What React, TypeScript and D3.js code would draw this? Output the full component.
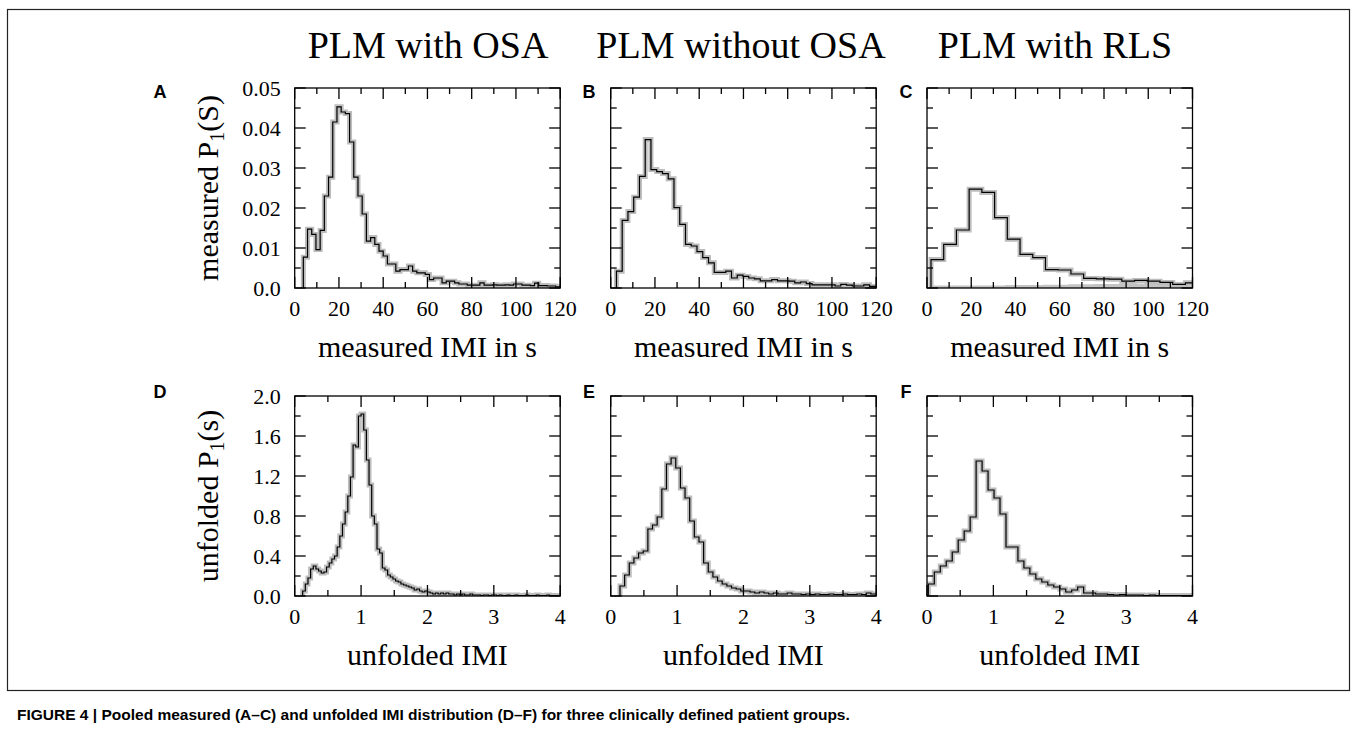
import React from 'react';
import * as d3 from 'd3';

// ---------- text ----------
const columnTitles = ['PLM with OSA', 'PLM without OSA', 'PLM with RLS'];
const topLetters = ['A', 'B', 'C'];
const bottomLetters = ['D', 'E', 'F'];
const captionText =
  'FIGURE 4 | Pooled measured (A\u2013C) and unfolded IMI distribution (D\u2013F) for three clinically defined patient groups.';

// ---------- axes ----------
const measuredXTicks = [0, 20, 40, 60, 80, 100, 120];
const measuredYTicks = [0, 0.01, 0.02, 0.03, 0.04, 0.05];
const measuredYTickLabels = ['0.0', '0.01', '0.02', '0.03', '0.04', '0.05'];
const unfoldedXTicks = [0, 1, 2, 3, 4];
const unfoldedYTicks = [0, 0.4, 0.8, 1.2, 1.6, 2.0];
const unfoldedYTickLabels = ['0.0', '0.4', '0.8', '1.2', '1.6', '2.0'];

// ---------- data (histograms: first bin edge, bin width, bin heights) ----------
const binStartA = 3.9, binWidthA = 1.9;
const valuesA = [
  0.0077, 0.0147, 0.0134, 0.0096, 0.0144, 0.0230, 0.0277, 0.0415, 0.0453, 0.0440,
  0.0436, 0.0365, 0.0277, 0.0230, 0.0185, 0.0117, 0.0126, 0.0109, 0.0092, 0.0080,
  0.0060, 0.0060, 0.0042, 0.0046, 0.0046, 0.0055, 0.0042, 0.0038, 0.0038, 0.0034,
  0.0021, 0.0025, 0.0025, 0.0013, 0.0017, 0.0017, 0.0013, 0.0010, 0.0010, 0.0007,
  0.0007, 0.0007, 0.0013, 0.0007, 0.0007, 0.0008, 0.0007, 0.0007, 0.0008, 0.0007,
  0.0010, 0.0010, 0.0007, 0.0007, 0.0006, 0.0012, 0.0006, 0.0006, 0.0005, 0.0005,
  0.0003, 0.0003,
];

const binStartB = 2.6, binWidthB = 2.6;
const valuesB = [
  0.0042, 0.0169, 0.0191, 0.0227, 0.0279, 0.0371, 0.0296, 0.0291, 0.0286, 0.0273,
  0.0201, 0.0159, 0.0109, 0.0105, 0.0091, 0.0076, 0.0063, 0.0039, 0.0039, 0.0042,
  0.0025, 0.0032, 0.0029, 0.0025, 0.0023, 0.0018, 0.0018, 0.0021, 0.0018, 0.0018,
  0.0017, 0.0013, 0.0015, 0.0011, 0.0008, 0.0008, 0.0008, 0.0008, 0.0005, 0.0009,
  0.0007, 0.0005, 0.0005, 0.0008, 0.0004, 0.0004,
];

const binStartC = 1.8, binWidthC = 5.75;
const valuesC = [
  0.0071, 0.0109, 0.0145, 0.0247, 0.0239, 0.0176, 0.0122, 0.0084, 0.0076, 0.0046,
  0.0045, 0.0035, 0.0024, 0.0023, 0.0022, 0.0017, 0.0019, 0.0017, 0.0014, 0.0009,
  0.0013,
];
// faint grey trace along the baseline of panel C
const valuesCFaint = [
  0, 0, 0, 0, 0, 0, 0.0001, 0.0001, 0.0001, 0.0002,
  0.0002, 0.0003, 0.0003, 0.0004, 0.0004, 0.0005, 0.0005, 0.0006, 0.0006, 0.0005,
  0.0006,
];

const binStartD = 0.12, binWidthD = 0.04;
const valuesD = [
  0.05, 0.12, 0.18, 0.27, 0.30, 0.27, 0.25, 0.23, 0.24, 0.29,
  0.33, 0.37, 0.40, 0.49, 0.60, 0.72, 0.84, 1.00, 1.19, 1.51,
  1.49, 1.80, 1.82, 1.66, 1.36, 1.11, 0.80, 0.72, 0.47, 0.43,
  0.28, 0.26, 0.21, 0.19, 0.17, 0.15, 0.14, 0.12, 0.11, 0.10,
  0.09, 0.08, 0.06, 0.07, 0.05, 0.04, 0.05, 0.04, 0.03, 0.02,
  0.03, 0.02, 0.03, 0.02, 0.03, 0.02, 0.02, 0.01, 0.02, 0.01,
  0.02, 0.01, 0.01, 0.02, 0.01, 0.01, 0.01, 0.005, 0.01, 0.01,
  0.005, 0.01, 0.01, 0.005, 0.01, 0.005, 0.005, 0.01, 0.005, 0.005,
  0.01, 0.005, 0.005, 0.005, 0.01, 0.005, 0.005, 0.005, 0.01, 0.005,
  0.005, 0.005, 0.01, 0.005, 0.005, 0.005, 0.005,
];

const binStartE = 0.14, binWidthE = 0.07;
const valuesE = [
  0.10, 0.21, 0.33, 0.38, 0.43, 0.45, 0.67, 0.71, 0.79, 1.07,
  1.32, 1.38, 1.28, 1.08, 0.98, 0.75, 0.59, 0.54, 0.33, 0.24,
  0.19, 0.15, 0.12, 0.10, 0.08, 0.07, 0.05, 0.05, 0.04, 0.03,
  0.04, 0.03, 0.02, 0.03, 0.02, 0.02, 0.03, 0.02, 0.02, 0.015,
  0.02, 0.015, 0.02, 0.015, 0.015, 0.02, 0.015, 0.015, 0.02, 0.015,
  0.015, 0.02, 0.015, 0.03, 0.02, 0.02,
];

const binStartF = 0.02, binWidthF = 0.09;
const valuesF = [
  0.12, 0.24, 0.30, 0.35, 0.44, 0.56, 0.65, 0.79, 1.35, 1.25,
  1.06, 0.98, 0.82, 0.49, 0.49, 0.35, 0.28, 0.22, 0.17, 0.14,
  0.11, 0.09, 0.07, 0.04, 0.06, 0.09, 0.03, 0.03, 0.02, 0.02,
  0.015, 0.01, 0.015, 0.01, 0.01, 0.01, 0.005, 0.01, 0.005, 0.005,
  0.005, 0.005, 0.005, 0.005, 0.005,
];

// ---------- layout ----------
const W = 1357, H = 735;
const colLeft = [294.7, 610.7, 927];
const panelW = 265.5;
const rowTop = [88, 396];
const panelH = 200;
const titleCenters = [428, 741, 1055];
const letterX = [160, 589, 906];

const serif = '"Liberation Serif", "Times New Roman", serif';
const sans = '"Liberation Sans", Arial, sans-serif';

type PanelProps = {
  id: string;
  left: number;
  top: number;
  xDomain: [number, number];
  yDomain: [number, number];
  xTicks: number[];
  xMinorStep: number;
  yTicks: number[];
  yMinorStep: number;
  yTickLabels: string[] | null;
  start: number;
  width: number;
  values: number[];
  faint?: number[];
};

function stepPoints(start: number, width: number, vals: number[]): [number, number][] {
  const pts: [number, number][] = [[start, 0]];
  vals.forEach((v, i) => pts.push([start + i * width, v]));
  pts.push([start + vals.length * width, vals[vals.length - 1]]);
  return pts;
}

function Panel(p: PanelProps) {
  const x = d3.scaleLinear().domain(p.xDomain).range([p.left, p.left + panelW]);
  const y = d3.scaleLinear().domain(p.yDomain).range([p.top + panelH, p.top]);
  const line = d3
    .line<[number, number]>()
    .x((d) => x(d[0]))
    .y((d) => y(d[1]))
    .curve(d3.curveStepAfter);
  const path = line(stepPoints(p.start, p.width, p.values)) || '';
  const faintPath = p.faint ? line(stepPoints(p.start, p.width, p.faint)) || '' : '';
  const bottom = p.top + panelH;
  const right = p.left + panelW;
  const xMinor = d3.range(p.xDomain[0], p.xDomain[1] + 1e-9, p.xMinorStep);
  const yMinor = d3.range(p.yDomain[0], p.yDomain[1] + 1e-9, p.yMinorStep);
  const majL = 11, minL = 6;
  const isMajor = (v: number, arr: number[]) => arr.some((a) => Math.abs(a - v) < 1e-9);
  return (
    <g>
      <defs>
        <clipPath id={`clip-${p.id}`}>
          <rect x={p.left} y={p.top} width={panelW} height={panelH} />
        </clipPath>
      </defs>
      <g clipPath={`url(#clip-${p.id})`}>
        {p.faint && (
          <path d={faintPath} fill="none" stroke="#c4c4c4" strokeWidth={5} />
        )}
        <path d={path} fill="none" stroke="#bdbdbd" strokeWidth={5} strokeLinejoin="miter" />
        <path d={path} fill="none" stroke="#000" strokeWidth={1.2} />
      </g>
      {xMinor.map((v, i) => {
        const L = isMajor(v, p.xTicks) ? majL : minL;
        return (
          <g key={`xt${i}`} stroke="#000" strokeWidth={1.3}>
            <line x1={x(v)} x2={x(v)} y1={bottom} y2={bottom - L} />
            <line x1={x(v)} x2={x(v)} y1={p.top} y2={p.top + L} />
          </g>
        );
      })}
      {yMinor.map((v, i) => {
        const L = isMajor(v, p.yTicks) ? majL : minL;
        return (
          <g key={`yt${i}`} stroke="#000" strokeWidth={1.3}>
            <line x1={p.left} x2={p.left + L} y1={y(v)} y2={y(v)} />
            <line x1={right} x2={right - L} y1={y(v)} y2={y(v)} />
          </g>
        );
      })}
      <rect x={p.left} y={p.top} width={panelW} height={panelH} fill="none" stroke="#000" strokeWidth={1.3} />
      {p.xTicks.map((v, i) => (
        <text key={`xl${i}`} x={x(v)} y={bottom + 28} textAnchor="middle" fontFamily={serif} fontSize={22} fill="#000">
          {String(v)}
        </text>
      ))}
      {p.yTickLabels &&
        p.yTicks.map((v, i) => (
          <text key={`yl${i}`} x={p.left - 14} y={y(v)} dy="0.35em" textAnchor="end" fontFamily={serif} fontSize={22} fill="#000">
            {p.yTickLabels![i]}
          </text>
        ))}
    </g>
  );
}

export default function App() {
  const topData = [
    { start: binStartA, width: binWidthA, values: valuesA },
    { start: binStartB, width: binWidthB, values: valuesB },
    { start: binStartC, width: binWidthC, values: valuesC, faint: valuesCFaint },
  ];
  const bottomData = [
    { start: binStartD, width: binWidthD, values: valuesD },
    { start: binStartE, width: binWidthE, values: valuesE },
    { start: binStartF, width: binWidthF, values: valuesF },
  ];
  return (
    <svg
      width={W}
      height={H}
      style={{ position: 'absolute', left: 0, top: 0, display: 'block', background: '#fff' }}
    >
      <rect x={0} y={0} width={W} height={H} fill="#fff" />
      <rect x={7.5} y={9.5} width={1342} height={681} fill="none" stroke="#222" strokeWidth={1.2} />
      {columnTitles.map((t, i) => (
        <text key={t} x={titleCenters[i]} y={58} textAnchor="middle" fontFamily={serif} fontSize={38} fill="#000">
          {t}
        </text>
      ))}
      {topData.map((d, i) => (
        <g key={`top${i}`}>
          <text x={letterX[i]} y={rowTop[0] + 10} textAnchor="middle" fontFamily={sans} fontWeight="bold" fontSize={18}>
            {topLetters[i]}
          </text>
          <Panel
            id={`t${i}`}
            left={colLeft[i]}
            top={rowTop[0]}
            xDomain={[0, 120]}
            yDomain={[0, 0.05]}
            xTicks={measuredXTicks}
            xMinorStep={10}
            yTicks={measuredYTicks}
            yMinorStep={0.005}
            yTickLabels={i === 0 ? measuredYTickLabels : null}
            start={d.start}
            width={d.width}
            values={d.values}
            faint={(d as any).faint}
          />
          <text x={colLeft[i] + panelW / 2} y={rowTop[0] + panelH + 69} textAnchor="middle" fontFamily={serif} fontSize={30}>
            measured IMI in s
          </text>
        </g>
      ))}
      {bottomData.map((d, i) => (
        <g key={`bot${i}`}>
          <text x={letterX[i]} y={rowTop[1] + 2} textAnchor="middle" fontFamily={sans} fontWeight="bold" fontSize={18}>
            {bottomLetters[i]}
          </text>
          <Panel
            id={`b${i}`}
            left={colLeft[i]}
            top={rowTop[1]}
            xDomain={[0, 4]}
            yDomain={[0, 2]}
            xTicks={unfoldedXTicks}
            xMinorStep={0.5}
            yTicks={unfoldedYTicks}
            yMinorStep={0.2}
            yTickLabels={i === 0 ? unfoldedYTickLabels : null}
            start={d.start}
            width={d.width}
            values={d.values}
          />
          <text x={colLeft[i] + panelW / 2} y={rowTop[1] + panelH + 69} textAnchor="middle" fontFamily={serif} fontSize={30}>
            unfolded IMI
          </text>
        </g>
      ))}
      <text transform={`translate(218,${rowTop[0] + panelH / 2}) rotate(-90)`} textAnchor="middle" fontFamily={serif} fontSize={30}>
        <tspan>measured P</tspan>
        <tspan fontSize={20} dy={6}>1</tspan>
        <tspan dy={-6}>(S)</tspan>
      </text>
      <text transform={`translate(218,${rowTop[1] + panelH / 2}) rotate(-90)`} textAnchor="middle" fontFamily={serif} fontSize={30}>
        <tspan>unfolded P</tspan>
        <tspan fontSize={20} dy={6}>1</tspan>
        <tspan dy={-6}>(s)</tspan>
      </text>
      <text x={17} y={720} fontFamily={sans} fontWeight="bold" fontSize={15.5} fill="#000">
        {captionText}
      </text>
    </svg>
  );
}
